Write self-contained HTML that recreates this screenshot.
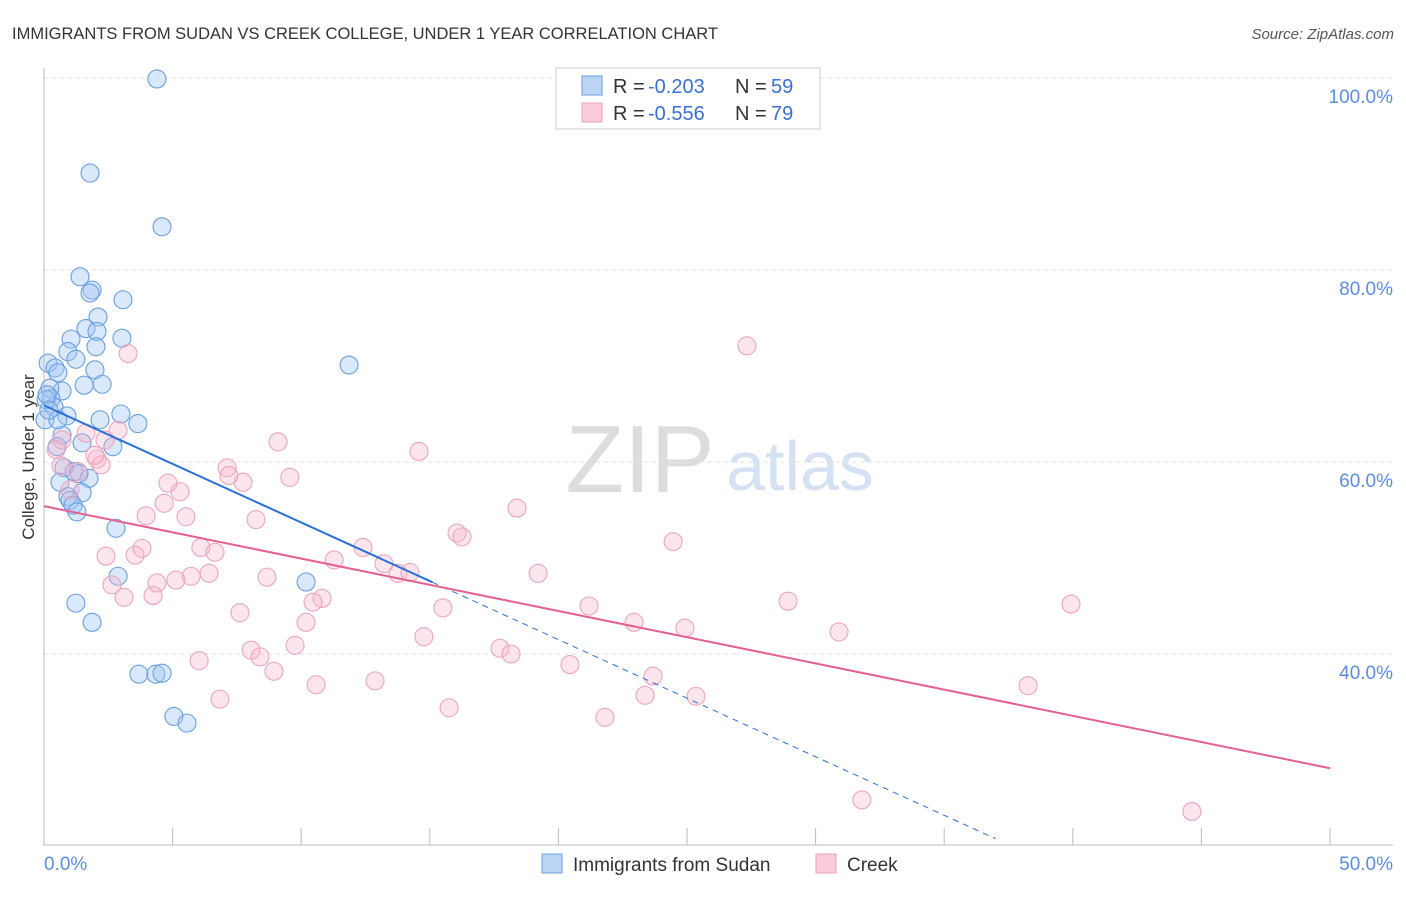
<!DOCTYPE html>
<html><head><meta charset="utf-8"><style>
body{margin:0;background:#fff;font-family:"Liberation Sans",sans-serif}
svg text{font-family:"Liberation Sans",sans-serif}
</style></head><body>
<svg id="c" width="1406" height="892">
<text x="12" y="39" font-size="16.5" fill="#333">IMMIGRANTS FROM SUDAN VS CREEK COLLEGE, UNDER 1 YEAR CORRELATION CHART</text>
<text x="1394" y="39" font-size="15" fill="#555" font-style="italic" text-anchor="end">Source: ZipAtlas.com</text>
<text x="640" y="492" font-size="96" fill="#ddd" font-family="Liberation Serif" text-anchor="middle">ZIP</text>
<text x="800" y="490" font-size="70" fill="#d4e2f4" text-anchor="middle">atlas</text>
<text transform="translate(34,457) rotate(-90)" font-size="17" fill="#333" text-anchor="middle">College, Under 1 year</text>
<g id="grid"></g><g id="marks"></g>
<g>
<rect x="556" y="68" width="264" height="61" fill="#fff" stroke="#ccc"/>
<rect x="582" y="76" width="20" height="19" fill="#bcd5f5" stroke="#6a9fe0"/>
<rect x="582" y="103" width="20" height="19" fill="#fbcbdb" stroke="#eaa0b8"/>
<text x="613" y="93" font-size="20" fill="#333">R =</text>
<text x="648" y="93" font-size="20" fill="#3a70d0">-0.203</text>
<text x="735" y="93" font-size="20" fill="#333">N =</text>
<text x="771" y="93" font-size="20" fill="#3a70d0">59</text>
<text x="613" y="120" font-size="20" fill="#333">R =</text>
<text x="648" y="120" font-size="20" fill="#3a70d0">-0.556</text>
<text x="735" y="120" font-size="20" fill="#333">N =</text>
<text x="771" y="120" font-size="20" fill="#3a70d0">79</text>
</g>
<g>
<rect x="542" y="854" width="20" height="19" fill="#bcd5f5" stroke="#6a9fe0"/>
<text x="573" y="871" font-size="19" fill="#333">Immigrants from Sudan</text>
<rect x="816" y="854" width="20" height="19" fill="#fbcbdb" stroke="#eaa0b8"/>
<text x="847" y="871" font-size="19" fill="#333">Creek</text>
</g>
</svg>
<script>
const yTicks=[40,60,80,100];
const xTickLabels=["0.0%","50.0%"];
const blueX=[4.39,1.79,4.59,1.40,1.87,1.79,3.07,2.10,1.63,2.06,1.05,3.03,2.02,0.93,1.24,0.16,0.43,0.54,1.98,11.86,1.56,2.26,0.70,0.23,0.27,0.39,0.89,2.99,2.18,3.65,0.70,1.48,0.51,2.68,0.78,1.17,1.75,0.62,1.36,1.48,0.93,1.01,1.13,1.28,2.80,2.88,10.19,1.24,1.87,3.69,4.35,4.59,5.05,5.56,0.04,0.08,0.12,0.54,0.19];
const blueY=[99.9,90.1,84.5,79.3,77.9,77.6,76.9,75.1,73.9,73.6,72.8,72.9,72.0,71.5,70.7,70.3,69.8,69.3,69.6,70.1,68.0,68.1,67.4,67.7,66.6,65.7,64.8,65.0,64.4,64.0,62.8,62.0,61.6,61.6,59.4,59.0,58.3,57.9,58.8,56.8,56.4,56.0,55.5,54.8,53.1,48.1,47.5,45.3,43.3,37.9,37.9,38.0,33.5,32.8,64.4,66.5,67.0,64.4,65.4];
const pinkX=[3.27,27.33,9.10,14.58,2.88,1.63,2.06,2.22,0.66,1.32,7.12,9.56,4.82,5.29,7.74,7.19,4.67,18.39,3.97,5.52,8.24,16.06,16.25,24.46,12.40,3.81,6.10,6.65,2.41,3.54,13.22,11.28,13.76,14.23,19.21,6.42,5.72,8.67,5.13,4.39,2.64,4.24,3.11,10.81,10.46,21.19,28.93,39.93,15.51,7.62,10.19,22.94,24.92,30.91,14.77,9.76,17.73,18.16,8.05,8.40,20.45,6.03,8.94,23.68,10.58,12.87,38.26,23.37,25.35,6.84,15.75,21.81,31.80,44.63,0.47,0.70,1.01,1.98,2.37];
const pinkY=[71.3,72.1,62.1,61.1,63.3,63.0,60.3,59.7,59.6,59.0,59.4,58.4,57.8,56.9,57.9,58.6,55.7,55.2,54.4,54.3,54.0,52.6,52.2,51.7,51.1,51.0,51.1,50.6,50.2,50.3,49.4,49.8,48.4,48.5,48.4,48.4,48.1,48.0,47.7,47.4,47.2,46.1,45.9,45.8,45.4,45.0,45.5,45.2,44.8,44.3,43.3,43.3,42.7,42.3,41.8,40.9,40.6,40.0,40.4,39.7,38.9,39.3,38.2,37.7,36.8,37.2,36.7,35.7,35.6,35.3,34.4,33.4,24.8,23.6,61.3,62.3,57.1,60.7,62.3];
const blueTrend=[65.9,-1.22];
const pinkTrend=[55.4,-0.546];
const NS="http://www.w3.org/2000/svg";
const X=v=>44+v*25.72, Y=v=>1038-v*9.6;
function mk(t,a,p){const e=document.createElementNS(NS,t);for(const k in a)e.setAttribute(k,a[k]);p.appendChild(e);return e;}
const g=document.getElementById('grid'),m=document.getElementById('marks');
yTicks.forEach(t=>{
 const l=mk('line',{x1:44,x2:1393,y1:Y(t),y2:Y(t),stroke:'#e2e2e2','stroke-dasharray':'4,4'},g);
 
 
 const tx=mk('text',{x:1393,y:Y(t)+25,'font-size':19,fill:'#5b8ee0','text-anchor':'end'},g);
 tx.textContent=t.toFixed(1)+'%';
 
 
});
mk('line',{x1:44,x2:44,y1:68,y2:845,stroke:'#bbb'},g);
mk('line',{x1:44,x2:1393,y1:845,y2:845,stroke:'#bbb'},g);
for(let i=0;i<=10;i++){mk('line',{x1:X(i*5),x2:X(i*5),y1:828,y2:845,stroke:'#bbb'},g);}
xTickLabels.forEach((s,i)=>{
 const tx=mk('text',{x:i?1393:44,y:870,'font-size':19,fill:'#5b8ee0','text-anchor':i?'end':'start'},g);
 tx.textContent=s;
 
 
});
blueX.forEach((x,i)=>{
 const c=mk('circle',{cx:X(x),cy:Y(blueY[i]),r:9,fill:'rgba(160,198,242,0.4)',stroke:'#6a9fe0','stroke-width':1.1},m);
 
 
});
pinkX.forEach((x,i)=>{
 const c=mk('circle',{cx:X(x),cy:Y(pinkY[i]),r:9,fill:'rgba(246,180,202,0.35)',stroke:'#eaa6bd','stroke-width':1.1},m);
 
 
});
const bt=v=>blueTrend[0]+blueTrend[1]*v, pt=v=>pinkTrend[0]+pinkTrend[1]*v;
const b1=mk('line',{x1:X(0),y1:Y(bt(0)),x2:X(15.1),y2:Y(bt(15.1)),stroke:'#2a6fd8','stroke-width':2},m);


const b2=mk('line',{x1:X(15.1),y1:Y(bt(15.1)),x2:X(37),y2:Y(bt(37)),stroke:'#2a6fd8','stroke-width':1,'stroke-dasharray':'6,5'},m);


const p1=mk('line',{x1:X(0),y1:Y(pt(0)),x2:X(50),y2:Y(pt(50)),stroke:'#e5608e','stroke-width':2},m);


</script>
</body></html>
